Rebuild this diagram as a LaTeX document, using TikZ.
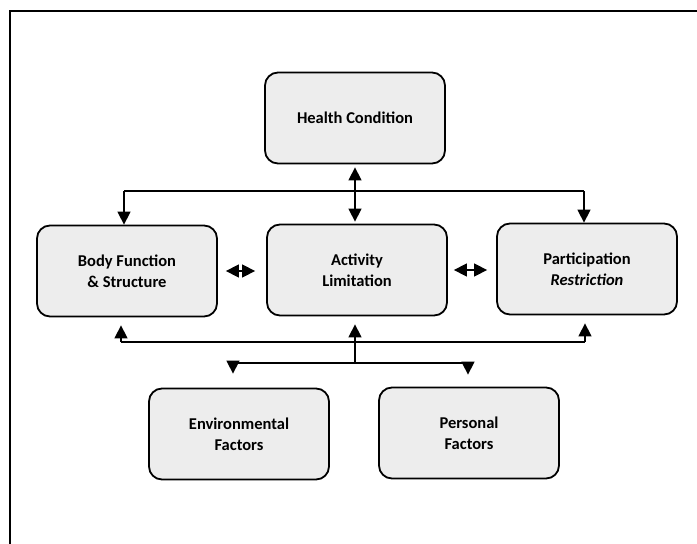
\documentclass[tikz,border=0pt]{standalone}
\usepackage{fontspec}
\setmainfont{Carlito}
\usetikzlibrary{arrows.meta}
\begin{document}
\begin{tikzpicture}[x=1pt,y=-1pt,
  box/.style={draw=black, line width=1.8pt, rounded corners=13pt, fill=black!7,
    minimum width=180pt, minimum height=91pt, align=center,
    font=\fontsize{16.5}{21}\selectfont\bfseries, inner sep=2pt},
  link/.style={line width=1.5pt, -{Triangle[length=13pt,width=13pt]}},
  dlink/.style={line width=1.5pt, {Triangle[length=13pt,width=13pt]}-{Triangle[length=13pt,width=13pt]}},
  plain/.style={line width=1.5pt},
  frame/.style={line width=2pt}]
\useasboundingbox (0,0) rectangle (697,544);
\draw[frame] (10,600) -- (10,11) -- (720,11);

\node[box] (hc) at (355,118) {Health Condition};
\node[box] (bf) at (127,271) {Body Function\\\& Structure};
\node[box] (al) at (357,270) {Activity\\Limitation};
\node[box] (pr) at (587,269) {Participation\\\textit{Restriction}};
\node[box] (ef) at (239,434) {Environmental\\Factors};
\node[box] (pf) at (469,433) {Personal\\Factors};

% top connectors
\coordinate (t1) at (355,191);
\coordinate (tl) at (124,191);
\coordinate (tr) at (584,191);
\draw[dlink, shorten <=3pt, shorten >=2pt] (hc.south -| t1) -- (al.north -| t1);
\draw[plain] (tl) -- (tr);
\draw[link] (tl) -- (tl |- bf.north);
\draw[link] (tr) -- (tr |- pr.north);

% horizontal double arrows
\draw[dlink, shorten <=8pt, shorten >=11pt] (bf.east) -- (al.west |- bf.east);
\draw[dlink, shorten <=6pt, shorten >=9pt] (al.east) -- (pr.west |- al.east);

% bottom connectors
\coordinate (b1) at (355,342);
\coordinate (bl) at (121,342);
\coordinate (br) at (585,342);
\coordinate (m1) at (355,363);
\coordinate (ml) at (233,363);
\coordinate (mr) at (468,363);
\draw[plain] (bl) -- (br);
\draw[link, shorten >=8pt] (bl) -- (bl |- bf.south);
\draw[link, shorten >=8pt] (br) -- (br |- pr.south);
\draw[link, shorten >=8pt] (m1) -- (m1 |- al.south);
\draw[plain] (ml) -- (mr);
\draw[link, shorten >=14pt] (ml) -- (ml |- ef.north);
\draw[link, shorten >=12pt] (mr) -- (mr |- pf.north);
\end{tikzpicture}
\end{document}
